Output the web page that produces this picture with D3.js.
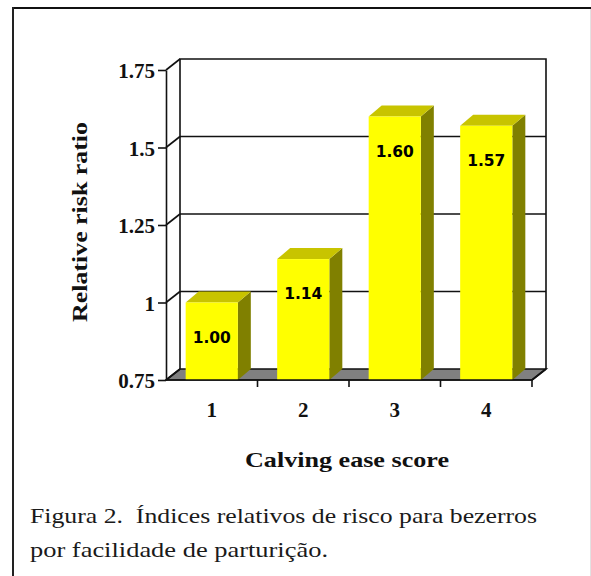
<!DOCTYPE html>
<html>
<head>
<meta charset="utf-8">
<script src="https://cdn.jsdelivr.net/npm/d3@7"></script>
<style>
html,body{margin:0;padding:0;background:#fff;}
svg{display:block;}
</style>
</head>
<body>
<svg id="chart" width="591" height="576"></svg>
<script>
// ---- data ----
const categories = ["1", "2", "3", "4"];
const riskValues = [1.00, 1.14, 1.60, 1.57];
const yTickValues = [0.75, 1, 1.25, 1.5, 1.75];
const yTickLabels = ["0.75", "1", "1.25", "1.5", "1.75"];
const yTitle = "Relative risk ratio";
const xTitle = "Calving ease score";
const captionLines = ["Figura 2.  Índices relativos de risco para bezerros", "por facilidade de parturição."];

// ---- layout ----
const svg = d3.select("#chart");
const W = 591, H = 576;
const pLeft = 166, pRight = 532, pTop = 70, pBottom = 380;
const DX = 14, DY = -11;      // wall depth
const BDX = 13, BDY = -11;    // bar depth
const serif = "Liberation Serif";

const x = d3.scaleBand().domain(categories).range([pLeft, pRight]).paddingInner(0.43).paddingOuter(0.215);
const y = d3.scaleLinear().domain([0.75, 1.75]).range([pBottom, pTop]);

// frame
svg.append("rect").attr("x", 0).attr("y", 0).attr("width", W).attr("height", H).attr("fill", "#fff");
svg.append("line").attr("x1", 12).attr("x2", W).attr("y1", 8).attr("y2", 8).attr("stroke", "#111").attr("stroke-width", 2);
svg.append("line").attr("x1", 13).attr("x2", 13).attr("y1", 7).attr("y2", H).attr("stroke", "#222").attr("stroke-width", 2);
svg.append("line").attr("x1", 590.5).attr("x2", 590.5).attr("y1", 9).attr("y2", H).attr("stroke", "#e2e2e2").attr("stroke-width", 1);

const g = svg.append("g");
const lineCol = "#111", lw = 1.6;

// floor
const floorPts = [[pLeft, pBottom], [pRight, pBottom], [pRight + DX, pBottom + DY], [pLeft + DX, pBottom + DY]];
g.append("polygon").attr("points", floorPts.map(p => p.join(",")).join(" "))
  .attr("fill", "#808080").attr("stroke", lineCol).attr("stroke-width", lw).attr("stroke-linejoin", "miter");

// back wall outline
g.append("path")
  .attr("d", `M${pLeft + DX},${y(0.75) + DY} V${y(1.75) + DY} H${pRight + DX} V${y(0.75) + DY}`)
  .attr("fill", "none").attr("stroke", lineCol).attr("stroke-width", lw);

// back gridlines and side wall diagonals
yTickValues.forEach(v => {
  if (v > 0.75 && v < 1.75) {
    g.append("line").attr("x1", pLeft + DX).attr("x2", pRight + DX)
      .attr("y1", y(v) + DY).attr("y2", y(v) + DY)
      .attr("stroke", lineCol).attr("stroke-width", lw);
  }
  g.append("line").attr("x1", pLeft).attr("y1", y(v)).attr("x2", pLeft + DX).attr("y2", y(v) + DY)
    .attr("stroke", lineCol).attr("stroke-width", lw);
});

// bars
const bars = g.selectAll("g.bar").data(riskValues).enter().append("g").attr("class", "bar");
bars.each(function (v, i) {
  const b = d3.select(this);
  const x0 = x(categories[i]), x1 = x0 + x.bandwidth();
  const yt = y(v), yb = y(0.75);
  b.append("polygon")
    .attr("points", [[x1, yb], [x1, yt], [x1 + BDX, yt + BDY], [x1 + BDX, yb + BDY]].map(p => p.join(",")).join(" "))
    .attr("fill", "#808000");
  b.append("polygon")
    .attr("points", [[x0, yt], [x1, yt], [x1 + BDX, yt + BDY], [x0 + BDX, yt + BDY]].map(p => p.join(",")).join(" "))
    .attr("fill", "#c8c400");
  b.append("rect").attr("x", x0).attr("y", yt).attr("width", x.bandwidth()).attr("height", yb - yt)
    .attr("fill", "#ffff00");
  b.append("text").attr("x", (x0 + x1) / 2).attr("y", yt + 40)
    .attr("text-anchor", "middle")
    .attr("font-family", "'DejaVu Sans', Verdana, sans-serif").attr("font-weight", "bold").attr("font-size", 15.5)
    .attr("fill", "#000").text(d3.format(".2f")(v));
});

// y axis
const yAxis = d3.axisLeft(y).tickValues(yTickValues)
  .tickFormat((d, i) => yTickLabels[i]).tickSizeInner(8).tickSizeOuter(0).tickPadding(3);
const ya = svg.append("g").attr("transform", `translate(${pLeft},0)`).call(yAxis);
ya.select(".domain").attr("stroke", lineCol).attr("stroke-width", lw);
ya.selectAll(".tick line").attr("stroke", lineCol).attr("stroke-width", lw);
ya.selectAll(".tick text").attr("font-family", serif).attr("font-weight", "bold")
  .attr("font-size", 21).attr("fill", "#111").attr("dy", "0.36em");

// x axis baseline with boundary ticks
const xa = svg.append("g").attr("transform", `translate(0,${pBottom})`);
xa.append("line").attr("x1", pLeft).attr("x2", pRight).attr("y1", 0).attr("y2", 0)
  .attr("stroke", lineCol).attr("stroke-width", lw);
const boundaries = categories.slice(1).map(c => x(c) - x.step() * x.paddingInner() / 2).concat([pRight]);
xa.selectAll("line.tk").data(boundaries).enter().append("line").attr("class", "tk")
  .attr("x1", d => d).attr("x2", d => d).attr("y1", 0).attr("y2", 7)
  .attr("stroke", lineCol).attr("stroke-width", lw);
xa.append("line").attr("x1", pRight).attr("y1", 0).attr("x2", pRight + DX).attr("y2", DY)
  .attr("stroke", lineCol).attr("stroke-width", lw);

const xAxis = d3.axisBottom(x).tickSize(0).tickPadding(0);
const xl = svg.append("g").attr("transform", `translate(0,${pBottom})`).call(xAxis);
xl.select(".domain").remove();
xl.selectAll(".tick text").attr("font-family", serif).attr("font-weight", "bold")
  .attr("font-size", 21).attr("fill", "#111").attr("dy", null).attr("y", 37);

// titles
svg.append("text").attr("transform", "translate(87,222) rotate(-90)")
  .attr("text-anchor", "middle").attr("font-family", serif).attr("font-weight", "bold")
  .attr("font-size", 21).attr("fill", "#111")
  .attr("textLength", 200).attr("lengthAdjust", "spacingAndGlyphs").text(yTitle);
svg.append("text").attr("x", 245).attr("y", 467)
  .attr("font-family", serif).attr("font-weight", "bold")
  .attr("font-size", 21).attr("fill", "#111")
  .attr("textLength", 204).attr("lengthAdjust", "spacingAndGlyphs").text(xTitle);

// caption
const capW = [507, 298];
captionLines.forEach((t, i) => {
  svg.append("text").attr("x", 30).attr("y", 523 + i * 34)
    .attr("font-family", serif).attr("font-size", 22).attr("fill", "#1a1a1a")
    .style("white-space", "pre")
    .attr("textLength", capW[i]).attr("lengthAdjust", "spacingAndGlyphs").text(t);
});
</script>
</body>
</html>
